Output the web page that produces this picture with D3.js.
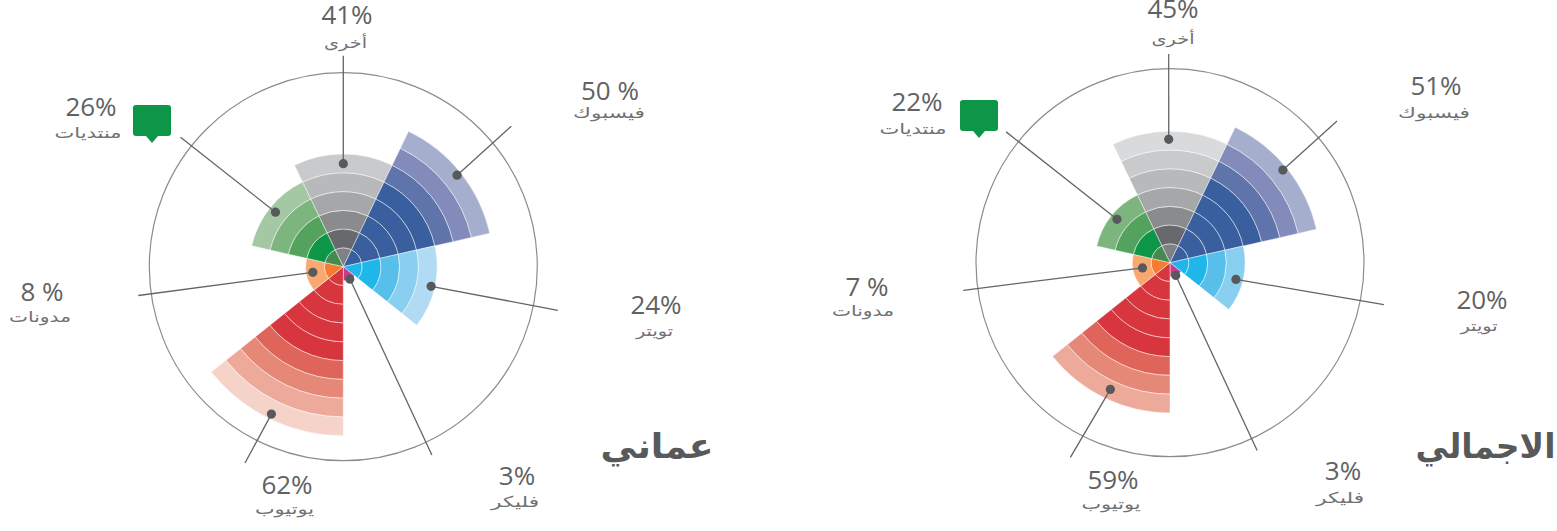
<!DOCTYPE html>
<html>
<head>
<meta charset="utf-8">
<script src="https://cdn.jsdelivr.net/npm/d3@7"></script>
<style>
  html, body { margin: 0; background: #fff; }
  svg { display: block; }
  .pct { font-family: "Open Sans", sans-serif; font-size: 26px; font-weight: 400; fill: #616264; text-anchor: middle; }
  .cat { font-family: "DejaVu Sans", sans-serif; font-size: 15px; fill: #707173; text-anchor: middle; direction: rtl; }
  .title { font-family: "DejaVu Sans", sans-serif; font-size: 34px; font-weight: bold; fill: #58595b; text-anchor: middle; direction: rtl; }
</style>
</head>
<body>
<div id="chart"></div>
<script>
// sectors run clockwise starting from the one centred on 12 o'clock
const categories = ["أخرى", "فيسبوك", "تويتر", "فليكر", "يوتيوب", "مدونات", "منتديات"];

const omanTitle = "عماني";
const omanLabels = ["41%", "50 %", "24%", "3%", "62%", "8 %", "26%"];
const omanRings = [6, 8, 5, 0.75, 9, 2, 5];

const totalTitle = "الاجمالي";
const totalLabels = ["45%", "51%", "20%", "3%", "59%", "7 %", "22%"];
const totalRings = [7, 8, 4, 0.75, 8, 2, 4];

const ramps = [
  ["#808184", "#68696c", "#8a8b8d", "#a6a7a9", "#b8b9bb", "#c9cacc", "#d9dadc"],
  ["#3a5f9e", "#3a5f9e", "#3a5f9e", "#3a5f9e", "#3a5f9e", "#5f74aa", "#828bb9", "#a5aecd"],
  ["#1fb6e9", "#1fb6e9", "#58bfea", "#89d0f0", "#b1dbf2"],
  ["#c83a8d"],
  ["#d8363f", "#d8363f", "#d8363f", "#d8363f", "#d8363f", "#df6459", "#e58877", "#edaa9b", "#f5d3c9"],
  ["#f47b30", "#f9a870"],
  ["#468a50", "#0e9648", "#53a35f", "#7db57f", "#a5c8a4"]
];

const ringScale = d3.scaleLinear().domain([0, 1]).range([0, 18.78]);
const angleScale = d3.scaleBand()
  .domain(categories)
  .range([-Math.PI / 7, 2 * Math.PI - Math.PI / 7]);

// drawn width of each arabic label, the source lettering is much wider than DejaVu
const catWidths = [43, 72, 37, 48, 59, 62, 67];

const svg = d3.select("#chart").append("svg")
  .attr("width", 1557)
  .attr("height", 531);

const arc = d3.arc();

function polar(deg, radius) {
  const a = deg * Math.PI / 180;
  return [radius * Math.sin(a), -radius * Math.cos(a)];
}

function drawRose(opts) {
  const g = svg.append("g")
    .attr("transform", `translate(${opts.cx}, ${opts.cy})`);

  g.append("circle")
    .attr("r", 194)
    .attr("fill", "none")
    .attr("stroke", "#8c8c8c")
    .attr("stroke-width", 1.2);

  categories.forEach((cat, i) => {
    const start = angleScale(cat);
    const end = start + angleScale.bandwidth();
    const bands = d3.range(Math.ceil(opts.rings[i]));

    g.append("g").selectAll("path")
      .data(bands)
      .join("path")
      .attr("d", k => arc({
        innerRadius: ringScale(k),
        outerRadius: ringScale(Math.min(k + 1, opts.rings[i])),
        startAngle: start,
        endAngle: end
      }))
      .attr("fill", k => ramps[i][k])
      .attr("stroke", "#fff")
      .attr("stroke-opacity", 0.75)
      .attr("stroke-width", 0.6);
  });

  categories.forEach((cat, i) => {
    const from = polar(opts.dot[i][0], opts.dot[i][1]);
    const to = polar(opts.end[i][0], opts.end[i][1]);
    g.append("line")
      .attr("x1", from[0]).attr("y1", from[1])
      .attr("x2", to[0]).attr("y2", to[1])
      .attr("stroke", "#636466")
      .attr("stroke-width", 1.3);
    g.append("circle")
      .attr("cx", from[0]).attr("cy", from[1])
      .attr("r", 4.6)
      .attr("fill", "#58595b");
  });

  categories.forEach((cat, i) => {
    svg.append("text").attr("class", "pct")
      .attr("x", opts.pctPos[i][0]).attr("y", opts.pctPos[i][1])
      .text(opts.labels[i]);
    svg.append("text").attr("class", "cat")
      .attr("x", opts.catPos[i][0]).attr("y", opts.catPos[i][1])
      .attr("textLength", catWidths[i])
      .attr("lengthAdjust", "spacingAndGlyphs")
      .text(cat);
  });

  svg.append("text").attr("class", "title")
    .attr("x", opts.titlePos[0]).attr("y", opts.titlePos[1])
    .attr("textLength", opts.titleWidth)
    .attr("lengthAdjust", "spacingAndGlyphs")
    .text(opts.title);

  // speech bubble next to the forums label
  svg.append("path")
    .attr("transform", `translate(${opts.bubble[0]}, ${opts.bubble[1]})`)
    .attr("fill", "#0e9648")
    .attr("d", "M3,0H35Q38,0 38,3V28Q38,31 35,31H25L19,38L13,31H3Q0,31 0,28V3Q0,0 3,0Z");
}

// leader lines are [angle in degrees from 12 o'clock, radius in px]
drawRose({
  cx: 343.3, cy: 266.7,
  title: omanTitle, labels: omanLabels, rings: omanRings,
  dot: [[0, 103], [51.2, 146], [102.6, 90], [152, 14], [206, 164], [259.6, 31], [308.8, 87]],
  end: [[0, 211], [50.1, 219], [101.5, 219], [154.8, 208], [206.6, 219.5], [262, 207], [308.5, 208]],
  pctPos: [[347, 24], [610, 100], [656, 314], [517, 485], [287, 494], [42, 301], [91, 116]],
  catPos: [[345.5, 48], [609, 118], [654.5, 336], [515, 507], [284.5, 514], [40, 322], [88, 138]],
  titlePos: [657, 458],
  titleWidth: 113,
  bubble: [133, 105]
});

drawRose({
  cx: 1170, cy: 262.7,
  title: totalTitle, labels: totalLabels, rings: totalRings,
  dot: [[-0.6, 123.4], [50.6, 146], [104.2, 68], [155.7, 14], [205.2, 140], [259.2, 28], [309.3, 68.5]],
  end: [[-0.36, 208.7], [49.7, 219], [101.1, 218], [155.1, 207], [207.1, 218.7], [262.4, 208.5], [308.6, 209.7]],
  pctPos: [[1173, 18], [1436, 95], [1482, 309], [1343, 480], [1113, 489], [867, 296], [917, 111]],
  catPos: [[1173, 44], [1434, 118], [1479, 331], [1340, 503], [1111, 509], [863, 316], [913, 134]],
  titlePos: [1485.5, 458],
  titleWidth: 140,
  bubble: [960, 100]
});
</script>
</body>
</html>
